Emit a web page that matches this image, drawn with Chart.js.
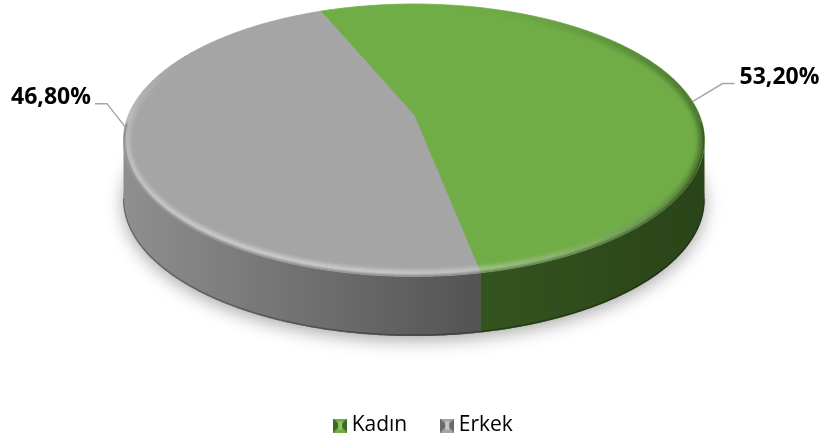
<!DOCTYPE html>
<html>
<head>
<meta charset="utf-8">
<title>Cinsiyet dağılımı</title>
<script src="https://cdn.jsdelivr.net/npm/chart.js@4.4.1/dist/chart.umd.min.js"></script>
<style>
  html, body { margin: 0; padding: 0; background: #ffffff; }
  #pieChart { display: block; }
</style>
</head>
<body>
<canvas id="pieChart" width="823" height="441"></canvas>
<script>
// data
const categories = ['Kadın', 'Erkek'];
const shares = [53.2, 46.8];
const shareText = ['53,20%', '46,80%'];
const labelSides = ['right', 'left'];

// look
const topColors = ['#70ad47', '#a5a5a5'];
const wallColors = [['#34541f', '#2a4419'], ['#8f8f8f', '#535353']];
const swatchShade = [['#3d6824', '#8fc46a'], ['#6a6a6a', '#c6c6c6']];

const TILT = 0.185;          // perspective strength of the tilted disc
const FIRST_SLICE = -22.5;   // degrees, where the first slice starts

// disc geometry, derived from the chart area the library laid out
function discGeometry(chart) {
  const area = chart.chartArea;
  const arc = chart.getDatasetMeta(0).data[0];
  const w = area.width;
  return {
    cx: arc.x,
    cy: area.top + w * 0.1406,
    rx: w * 0.349,
    ry: w * 0.1608,
    depth: w * 0.073
  };
}

function rimPoint(g, a, dy) {
  const u = Math.cos(a), v = Math.sin(a);
  const s = 1 / (1 - TILT * v);
  return [g.cx + g.rx * u * s, g.cy + g.ry * v * s + (dy || 0)];
}

function traceRim(ctx, g, a0, a1, dy, moveFirst) {
  const n = Math.max(2, Math.ceil(Math.abs(a1 - a0) / 0.01));
  for (let j = 0; j <= n; j++) {
    const p = rimPoint(g, a0 + (a1 - a0) * j / n, dy);
    if (j === 0 && moveFirst) ctx.moveTo(p[0], p[1]);
    else ctx.lineTo(p[0], p[1]);
  }
}

// part of a slice whose outer wall faces the viewer
function visibleWall(s, e) {
  const lo = Math.asin(TILT), hi = Math.PI - Math.asin(TILT);
  const parts = [];
  for (let k = -1; k <= 1; k++) {
    const a0 = Math.max(s, lo + 2 * Math.PI * k);
    const a1 = Math.min(e, hi + 2 * Math.PI * k);
    if (a1 > a0) parts.push([a0, a1]);
  }
  return parts;
}

// rounded rim: lit towards the front-left, shaded towards the right
function drawBevel(ctx, chart, g) {
  const off = document.createElement('canvas');
  off.width = chart.width;
  off.height = chart.height;
  const o = off.getContext('2d');
  o.lineWidth = 12;
  const step = 0.02;
  for (let a = -Math.PI; a < Math.PI; a += step) {
    const p0 = rimPoint(g, a), p1 = rimPoint(g, a + step * 1.2);
    const lit = Math.max(0, Math.cos(a - 2.0));
    const shade = Math.pow(Math.max(0, Math.cos(a - 0.1)), 2);
    o.beginPath();
    o.moveTo(p0[0], p0[1]);
    o.lineTo(p1[0], p1[1]);
    o.strokeStyle = 'rgba(255,255,255,' + (0.42 * lit).toFixed(3) + ')';
    o.stroke();
    o.strokeStyle = 'rgba(0,0,0,' + (0.26 * shade).toFixed(3) + ')';
    o.stroke();
  }

  ctx.save();
  ctx.beginPath();
  traceRim(ctx, g, 0, Math.PI * 2, 0, true);
  ctx.closePath();
  ctx.clip();
  ctx.filter = 'blur(2px)';
  ctx.drawImage(off, 0, 0);
  ctx.filter = 'blur(1px)';
  ctx.beginPath();
  traceRim(ctx, g, Math.PI * 0.02, Math.PI * 0.98, 0, true);
  ctx.strokeStyle = 'rgba(0,0,0,0.35)';
  ctx.lineWidth = 3;
  ctx.stroke();
  ctx.restore();
}

const pie3d = {
  id: 'pie3d',
  beforeDatasetsDraw(chart) {
    const ctx = chart.ctx;
    const g = discGeometry(chart);
    const arcs = chart.getDatasetMeta(0).data;

    // soft shadow under the disc
    ctx.save();
    ctx.beginPath();
    traceRim(ctx, g, 0, Math.PI * 2, g.depth, true);
    ctx.closePath();
    ctx.shadowColor = 'rgba(0,0,0,0.35)';
    ctx.shadowBlur = 18;
    ctx.shadowOffsetY = 4;
    ctx.fillStyle = '#707070';
    ctx.fill();
    ctx.restore();

    // outer walls
    arcs.forEach((arc, i) => {
      visibleWall(arc.startAngle, arc.endAngle).forEach(([a0, a1]) => {
        const pA = rimPoint(g, a0), pB = rimPoint(g, a1);
        const xMin = Math.min(pA[0], pB[0]), xMax = Math.max(pA[0], pB[0]);
        const grad = ctx.createLinearGradient(xMin, 0, xMax, 0);
        // gradient runs from the lit left side to the shaded right side
        grad.addColorStop(0, wallColors[i][0]);
        grad.addColorStop(1, wallColors[i][1]);
        ctx.beginPath();
        traceRim(ctx, g, a0, a1, 0, true);
        traceRim(ctx, g, a1, a0, g.depth, false);
        ctx.closePath();
        ctx.fillStyle = grad;
        ctx.fill();
      });
    });

    // dark lower edge of the wall
    ctx.save();
    ctx.beginPath();
    traceRim(ctx, g, Math.asin(TILT), Math.PI - Math.asin(TILT), g.depth - 1, true);
    ctx.strokeStyle = 'rgba(0,0,0,0.25)';
    ctx.lineWidth = 1.5;
    ctx.stroke();
    ctx.restore();

    // top faces
    arcs.forEach((arc, i) => {
      ctx.beginPath();
      ctx.moveTo(g.cx, g.cy);
      traceRim(ctx, g, arc.startAngle, arc.endAngle, 0, false);
      ctx.closePath();
      ctx.fillStyle = topColors[i];
      ctx.strokeStyle = topColors[i];
      ctx.lineWidth = 0.8;
      ctx.fill();
      ctx.stroke();
    });

    drawBevel(ctx, chart, g);
    return false;
  },
  afterDraw(chart) {
    const ctx = chart.ctx;
    const g = discGeometry(chart);
    const arcs = chart.getDatasetMeta(0).data;
    ctx.save();
    ctx.font = 'bold 23px "Open Sans"';
    ctx.textBaseline = 'middle';
    arcs.forEach((arc, i) => {
      const right = labelSides[i] === 'right';
      // rim point of the slice closest to the label's side
      let aim = right ? -6 * Math.PI / 180 : 175 * Math.PI / 180;
      while (aim < arc.startAngle) aim += Math.PI * 2;
      while (aim > arc.endAngle) aim -= Math.PI * 2;
      aim = Math.min(Math.max(aim, arc.startAngle), arc.endAngle);
      const [ax, ay] = rimPoint(g, aim);
      const ex = ax + (right ? 30 : -18), ey = ay + (right ? -18 : -23);
      const tx = ex + (right ? 12 : -12);
      ctx.beginPath();
      ctx.moveTo(ax, ay);
      ctx.lineTo(ex, ey);
      ctx.lineTo(tx, ey);
      ctx.strokeStyle = '#a6a6a6';
      ctx.lineWidth = 1.5;
      ctx.stroke();
      ctx.fillStyle = '#000000';
      ctx.textAlign = right ? 'left' : 'right';
      ctx.fillText(shareText[i], tx + (right ? 5 : -4), ey - 6);
    });
    ctx.restore();
  }
};

// bevelled square used as the legend marker
function bevelSwatch(i) {
  const c = document.createElement('canvas');
  c.width = 14; c.height = 14;
  const x = c.getContext('2d');
  x.fillStyle = topColors[i];
  x.fillRect(0, 0, 14, 14);
  x.fillStyle = swatchShade[i][0];
  x.beginPath(); x.moveTo(0, 0); x.lineTo(7, 7); x.lineTo(0, 14); x.closePath(); x.fill();
  x.beginPath(); x.moveTo(14, 0); x.lineTo(7, 7); x.lineTo(14, 14); x.closePath(); x.fill();
  x.fillStyle = swatchShade[i][1];
  x.fillRect(5, 3, 4, 8);
  return c;
}
const swatches = categories.map((_, i) => bevelSwatch(i));

// Excel centres the legend a little right of the plot
const legendShift = {
  id: 'legendShift',
  afterLayout(chart) {
    const lg = chart.legend;
    lg.left += 12; lg.right += 12;
    lg.top += 5; lg.bottom += 5;
  }
};

new Chart(document.getElementById('pieChart'), {
  type: 'pie',
  data: {
    labels: categories,
    datasets: [{
      data: shares,
      backgroundColor: topColors,
      borderWidth: 0
    }]
  },
  options: {
    responsive: false,
    animation: false,
    devicePixelRatio: 1,
    rotation: FIRST_SLICE,
    layout: { padding: { left: 5, top: 0, right: 0, bottom: 0 } },
    plugins: {
      tooltip: { enabled: false },
      legend: {
        position: 'bottom',
        labels: {
          usePointStyle: true,
          boxWidth: 2,
          padding: 39,
          color: '#595959',
          font: { family: '"Open Sans"', size: 21 },
          generateLabels: () => categories.map((name, i) => ({
            text: name,
            pointStyle: swatches[i],
            fillStyle: topColors[i],
            strokeStyle: topColors[i],
            lineWidth: 0,
            hidden: false,
            index: i
          }))
        }
      }
    }
  },
  plugins: [pie3d, legendShift]
});
</script>
</body>
</html>
